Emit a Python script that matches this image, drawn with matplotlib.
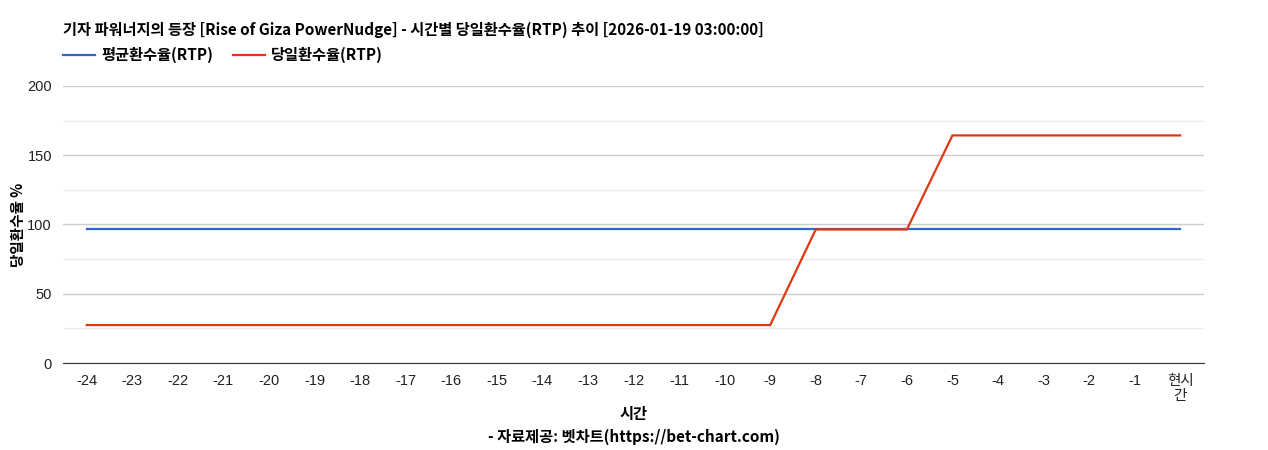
import matplotlib
matplotlib.use("Agg")
import matplotlib.pyplot as plt
from matplotlib.ticker import MultipleLocator

plt.rcParams['font.family'] = ['Liberation Sans', 'Noto Sans CJK KR', 'DejaVu Sans']

hours = [str(h) for h in range(-24, 0)] + ['현시\n간']
avg_rtp = [96.4] * 25
day_rtp = [27.4] * 16 + [96.4, 96.4, 96.4] + [164.3] * 6

kr = ['Noto Sans CJK KR', 'DejaVu Sans']

fig = plt.figure(figsize=(12.68, 4.5), dpi=100)
ax = fig.add_axes([0.0497, 0.1933, 0.8998, 0.6157])

x = list(range(len(hours)))
ax.plot(x, avg_rtp, color='#3366cc', lw=1.6, label='평균환수율(RTP)')
ax.plot(x, day_rtp, color='#dc3912', lw=1.6, label='당일환수율(RTP)')

ax.set_xlim(-0.52, 24.52)
ax.set_ylim(0, 200)
ax.yaxis.set_major_locator(MultipleLocator(50))
ax.yaxis.set_minor_locator(MultipleLocator(25))
ax.grid(which='major', axis='y', color='#cccccc', lw=1)
ax.grid(which='minor', axis='y', color='#ebebeb', lw=1)
ax.set_axisbelow(True)
for s in ['top', 'right', 'left']:
    ax.spines[s].set_visible(False)
ax.spines['bottom'].set_color('#333333')
ax.tick_params(axis='both', which='both', length=0, labelsize=10.5, colors='#222222')
ax.tick_params(axis='x', pad=8)
ax.tick_params(axis='y', pad=8)
ax.set_xticks(x)
ax.set_xticklabels(hours, linespacing=1.1)

ax.set_ylabel('당일환수율 %', family=kr, fontweight='bold', fontsize=10.5, labelpad=1)
ax.set_xlabel('시간', family=kr, fontweight='bold', fontsize=11, labelpad=2)

fig.text(0.0497, 1 - 30 / 450, '기자 파워너지의 등장 [Rise of Giza PowerNudge] - 시간별 당일환수율(RTP) 추이 [2026-01-19 03:00:00]',
         family=kr, fontweight='bold', fontsize=11, va='center', ha='left')
fig.text(0.5, 1 - 437 / 450, '- 자료제공: 벳차트(https://bet-chart.com)',
         family=kr, fontweight='bold', fontsize=11, va='center', ha='center')

leg = fig.legend(loc='center left', bbox_to_anchor=(0.039, 1 - 55 / 450), ncol=2, frameon=False,
                 prop={'family': kr, 'weight': 'bold', 'size': 11}, handlelength=2.1,
                 columnspacing=1.3, handletextpad=0.4)

fig.savefig('out.png', dpi=100)
